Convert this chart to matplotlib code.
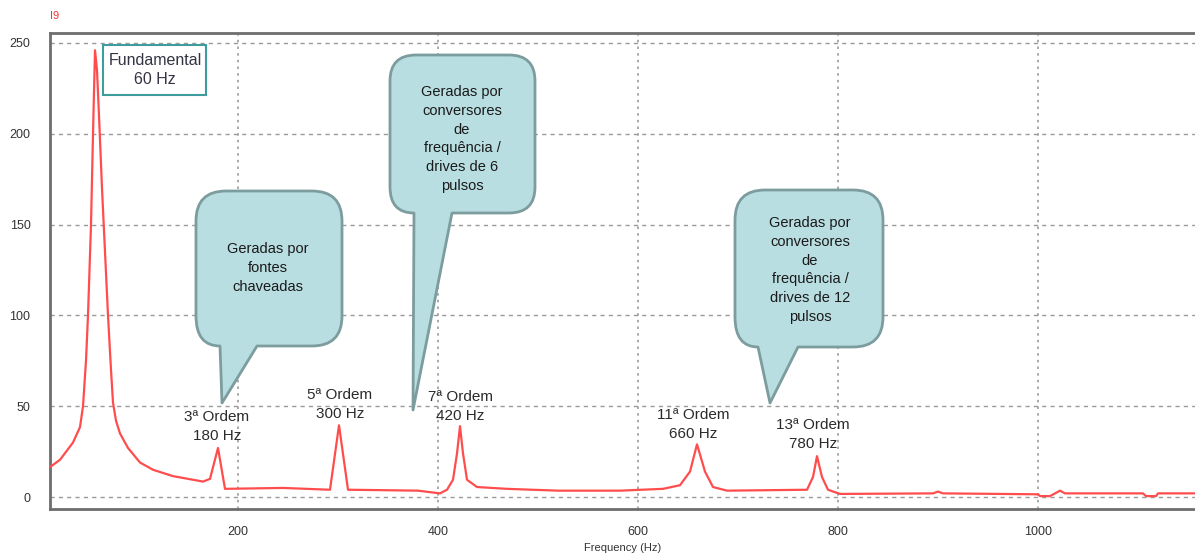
import matplotlib
matplotlib.use("Agg")
import matplotlib.pyplot as plt
from matplotlib.path import Path
from matplotlib.patches import PathPatch, Rectangle
from matplotlib.transforms import Affine2D

plt.rcParams['font.family'] = ['Liberation Sans', 'DejaVu Sans']

# ---- data ----
freq = [12, 22, 35, 42, 45, 48, 50, 53, 55, 57, 59, 61, 64, 67, 70, 73, 75, 78, 82, 90,
        102, 115, 135, 150, 165, 172, 180, 187, 245, 292, 301, 310, 340, 380, 402, 409,
        415, 419, 422, 425, 429, 439, 469, 520, 582, 625, 642, 652, 659, 667, 675, 689,
        769, 775, 779, 784, 790, 802, 895, 900, 905, 1000, 1002, 1012, 1017, 1022,
        1027, 1105, 1108, 1118, 1120, 1157]
amplitude = [16.5, 20.5, 30, 38.5, 50, 75, 100, 150, 200, 246, 235, 210, 170, 135, 100,
             70, 52, 42, 35, 27, 19, 15, 11.5, 10, 8.5, 10, 27, 4.5, 5, 4, 39.5, 4, 3.8,
             3.5, 2, 4, 9.5, 24, 39, 24, 9.5, 5.5, 4.5, 3.5, 3.5, 4.5, 6.5, 14, 29, 14,
             5.5, 3.5, 4, 11, 22.5, 11, 4, 1.7, 2, 3, 2, 1.5, 0.5, 0.5, 2, 3.5, 2, 2,
             0.5, 0.5, 2, 2]

harmonic_labels = ["3ª Ordem\n180 Hz", "5ª Ordem\n300 Hz", "7ª Ordem\n420 Hz",
                   "11ª Ordem\n660 Hz", "13ª Ordem\n780 Hz"]
callout_texts = ["Geradas por\nfontes\nchaveadas",
                 "Geradas por\nconversores\nde\nfrequência /\ndrives de 6\npulsos",
                 "Geradas por\nconversores\nde\nfrequência /\ndrives de 12\npulsos"]
fundamental_label = "Fundamental\n60 Hz"
xticks = [200, 400, 600, 800, 1000]
yticks = [0, 50, 100, 150, 200, 250]

# ---- layout ----
W, H = 1195, 559
fig = plt.figure(figsize=(W / 100, H / 100), dpi=100)
ax = fig.add_axes([50 / W, (H - 509) / H, 1 - 50 / W, (509 - 33) / H])
pix = Affine2D().scale(1 / W, -1 / H).translate(0, 1) + fig.transFigure

ax.plot(freq, amplitude, color='#ff4d4d', lw=1.6, zorder=3)
ax.set_xlim(12, 1157)
ax.set_ylim(-6.6, 255.5)
ax.set_xticks(xticks)
ax.set_yticks(yticks)
ax.tick_params(length=0, labelsize=9, colors='#333333')
ax.tick_params(axis='x', pad=12)
ax.tick_params(axis='y', pad=14)
ax.grid(axis='y', color='#9a9a9a', linestyle=(0, (3, 3)), lw=1)
ax.grid(axis='x', color='#9a9a9a', linestyle=(0, (1.5, 2.5)), lw=1.2)
for s in ['left', 'top', 'bottom']:
    ax.spines[s].set_color('#6e6e6e')
    ax.spines[s].set_linewidth(2)
ax.spines['right'].set_visible(False)
ax.set_xlabel("Frequency (Hz)", fontsize=8, color='#333333', labelpad=4)

fig.text(50, 16, "I9", transform=pix, color='#ff3030', fontsize=8, va='center', ha='left')

# harmonic labels (data coords)
label_pos = [(179, 38.6), (302, 51), (422, 49.7), (655, 39.7), (775, 34.5)]
for (x, y), t in zip(label_pos, harmonic_labels):
    ax.text(x, y, t, ha='center', va='center', fontsize=11, color='#2b2b2b',
            linespacing=1.45, zorder=4)

# fundamental box
fig.patches.append(Rectangle((103, 45), 103, 50, transform=pix, facecolor='white',
                             edgecolor='#3f9c9c', lw=1.5, zorder=5))
fig.text(155, 70, fundamental_label, transform=pix, ha='center', va='center',
         fontsize=11.5, color='#333344', linespacing=1.3, zorder=6)


def callout(x0, y0, x1, y1, r, tl, tr, tip):
    v = [(x0 + r, y0), (x1 - r, y0), (x1, y0), (x1, y0 + r), (x1, y1 - r),
         (x1, y1), (x1 - r, y1), (tr, y1), tip, (tl, y1)]
    c = [Path.MOVETO, Path.LINETO, Path.CURVE3, Path.CURVE3, Path.LINETO,
         Path.CURVE3, Path.CURVE3, Path.LINETO, Path.LINETO, Path.LINETO]
    if tl > x0 + r:
        v.append((x0 + r, y1))
        c.append(Path.LINETO)
    v += [(x0, y1), (x0, y1 - r), (x0, y0 + r), (x0, y0), (x0 + r, y0), (x0 + r, y0)]
    c += [Path.CURVE3, Path.CURVE3, Path.LINETO, Path.CURVE3, Path.CURVE3, Path.CLOSEPOLY]
    return Path(v, c)


callouts = [((196, 191, 342, 346, 30, 220, 257, (222, 403)), (268, 268)),
            ((390, 55, 535, 213, 26, 414, 452, (413, 410)), (462, 139)),
            ((735, 190, 883, 347, 30, 758, 798, (770, 403)), (810, 270))]
for (geom, (tx, ty)), txt in zip(callouts, callout_texts):
    p = PathPatch(callout(*geom), transform=pix, facecolor='#b9dee1',
                  edgecolor='#7c9c9e', lw=2, zorder=5, joinstyle='round')
    fig.patches.append(p)
    fig.text(tx, ty, txt, transform=pix, ha='center', va='center', fontsize=10.5,
             color='#1a1a1a', linespacing=1.45, zorder=6)

fig.savefig("out.png", dpi=100, facecolor='white')
